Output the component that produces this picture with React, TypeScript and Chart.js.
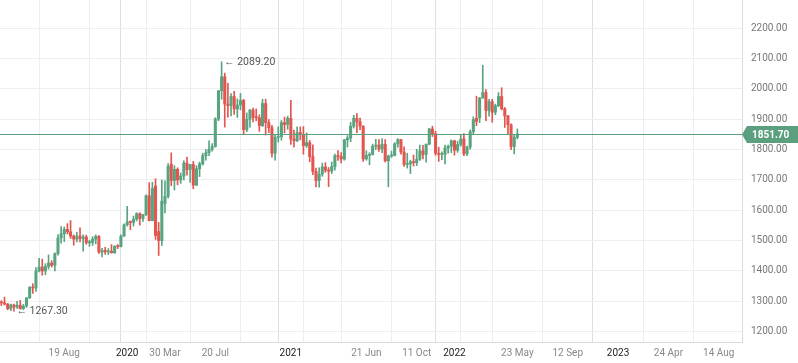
import React, { useEffect, useRef } from "react";
import { Chart, registerables } from "chart.js";
Chart.register(...registerables);

// Weekly candles, first week starting Monday 2019-04-01
const firstWeek = "2019-04-01";

const opens = [
  1298, 1295, 1291, 1276, 1288, 1281, 1287, 1276, 1285, 1311, 1346, 1344, 1400, 1413, 1400, 1415, 1426, 1419, 1457, 1509,
  1523, 1537, 1529, 1515, 1505, 1515, 1507, 1512, 1493, 1494, 1505, 1514, 1462, 1468, 1463, 1465, 1460, 1481, 1480, 1515,
  1552, 1562, 1560, 1571, 1589, 1573, 1586, 1648, 1566, 1680, 1530, 1500, 1622, 1646, 1752, 1698, 1735, 1700, 1713, 1756,
  1734, 1751, 1683, 1737, 1753, 1780, 1790, 1801, 1810, 1901, 1994, 2040, 1950, 1945, 1975, 1934, 1947, 1962, 1866, 1900,
  1930, 1906, 1905, 1879, 1952, 1889, 1872, 1788, 1840, 1843, 1889, 1883, 1903, 1835, 1829, 1856, 1850, 1813, 1823, 1777,
  1728, 1698, 1719, 1743, 1732, 1729, 1744, 1780, 1777, 1769, 1832, 1838, 1877, 1903, 1892, 1877, 1769, 1781, 1784, 1811,
  1815, 1802, 1817, 1763, 1779, 1781, 1819, 1833, 1792, 1751, 1753, 1760, 1757, 1768, 1796, 1784, 1818, 1868, 1852, 1788,
  1784, 1784, 1805, 1811, 1829, 1798, 1817, 1835, 1786, 1808, 1859, 1903, 1905, 1970, 1988, 1929, 1958, 1923, 1945, 1975,
  1934, 1911, 1882, 1810, 1841,
];
const highs = [
  1302, 1314, 1293, 1291, 1291, 1300, 1303, 1290, 1313, 1349, 1358, 1411, 1442, 1439, 1424, 1453, 1434, 1460, 1520, 1546,
  1545, 1556, 1566, 1519, 1527, 1542, 1519, 1518, 1501, 1513, 1519, 1517, 1475, 1478, 1474, 1487, 1484, 1487, 1519, 1555,
  1613, 1565, 1581, 1592, 1592, 1587, 1651, 1691, 1692, 1704, 1560, 1700, 1697, 1754, 1789, 1747, 1740, 1723, 1763, 1775,
  1751, 1761, 1747, 1759, 1788, 1800, 1829, 1820, 1905, 1994, 2089.2, 2052, 2018, 1985, 1992, 1967, 1985, 1966, 1921, 1933,
  1937, 1934, 1915, 1966, 1966, 1899, 1880, 1848, 1875, 1896, 1907, 1910, 1962, 1864, 1875, 1875, 1876, 1855, 1830, 1816,
  1739, 1740, 1755, 1757, 1741, 1759, 1785, 1797, 1790, 1834, 1846, 1890, 1913, 1919, 1904, 1879, 1796, 1790, 1818, 1834,
  1833, 1836, 1833, 1782, 1795, 1823, 1836, 1834, 1809, 1788, 1765, 1782, 1801, 1815, 1814, 1818, 1870, 1877, 1860, 1808,
  1793, 1815, 1815, 1832, 1831, 1828, 1848, 1853, 1812, 1865, 1908, 1976, 1972, 2078, 1998, 1966, 1966, 1950, 1988, 2004,
  1939, 1913, 1885, 1850, 1868,
];
const lows = [
  1286, 1288, 1272, 1269, 1267.3, 1277, 1274, 1273, 1280, 1310, 1326, 1333, 1397, 1386, 1388, 1406, 1413, 1400, 1452, 1492,
  1497, 1522, 1507, 1485, 1496, 1496, 1465, 1488, 1481, 1484, 1489, 1458, 1446, 1455, 1454, 1459, 1458, 1474, 1479, 1514,
  1548, 1536, 1548, 1565, 1551, 1563, 1582, 1565, 1565, 1504, 1451, 1484, 1591, 1640, 1681, 1667, 1684, 1689, 1700, 1716,
  1692, 1671, 1681, 1711, 1749, 1765, 1780, 1795, 1808, 1895, 1966, 1874, 1907, 1911, 1916, 1906, 1931, 1851, 1859, 1874,
  1891, 1895, 1860, 1876, 1848, 1856, 1775, 1765, 1825, 1831, 1855, 1867, 1817, 1808, 1826, 1832, 1785, 1807, 1760, 1717,
  1677, 1676, 1712, 1725, 1678, 1721, 1732, 1764, 1756, 1765, 1808, 1826, 1871, 1856, 1866, 1761, 1765, 1750, 1782, 1800,
  1794, 1790, 1759, 1677, 1774, 1779, 1808, 1785, 1745, 1739, 1721, 1746, 1747, 1764, 1769, 1759, 1816, 1843, 1781, 1761,
  1767, 1753, 1788, 1790, 1782, 1791, 1811, 1780, 1780, 1801, 1850, 1879, 1889, 1969, 1895, 1910, 1890, 1915, 1941, 1931,
  1873, 1850, 1800, 1786, 1835,
];
const closes = [
  1295, 1291, 1276, 1288, 1281, 1287, 1276, 1284, 1311, 1346, 1344, 1400, 1413, 1400, 1415, 1426, 1419, 1457, 1509, 1523,
  1537, 1529, 1515, 1505, 1515, 1507, 1512, 1493, 1494, 1505, 1514, 1462, 1468, 1463, 1465, 1460, 1481, 1480, 1515, 1552,
  1562, 1560, 1571, 1589, 1573, 1586, 1648, 1566, 1672, 1517, 1500, 1630, 1646, 1745, 1698, 1735, 1700, 1713, 1756, 1734,
  1751, 1683, 1737, 1753, 1780, 1790, 1801, 1810, 1901, 1994, 2040, 1950, 1945, 1975, 1934, 1947, 1962, 1866, 1900, 1930,
  1906, 1905, 1879, 1952, 1889, 1872, 1788, 1840, 1843, 1889, 1883, 1903, 1835, 1829, 1856, 1850, 1813, 1823, 1777, 1728,
  1698, 1719, 1743, 1732, 1729, 1744, 1780, 1777, 1769, 1832, 1838, 1877, 1903, 1892, 1877, 1769, 1781, 1784, 1811, 1815,
  1802, 1817, 1763, 1779, 1781, 1819, 1833, 1792, 1751, 1753, 1760, 1757, 1768, 1796, 1784, 1818, 1868, 1852, 1788, 1784,
  1784, 1805, 1811, 1829, 1798, 1817, 1835, 1786, 1808, 1859, 1899, 1893, 1970, 1988, 1929, 1958, 1923, 1945, 1975, 1934,
  1911, 1882, 1810, 1841, 1851.7,
];

const xTickDates = [
  "2019-04-29", "2019-08-19", "2019-12-09", "2020-01-06", "2020-03-30", "2020-07-20", "2020-11-09", "2021-01-04",
  "2021-03-01", "2021-06-21", "2021-10-11", "2022-01-03", "2022-01-31", "2022-05-23", "2022-09-12", "2023-01-02",
  "2023-04-24", "2023-08-14",
];
const xTickLabels = [
  "", "19 Aug", "", "2020", "30 Mar", "20 Jul", "", "2021", "", "21 Jun", "11 Oct", "2022", "", "23 May", "12 Sep",
  "2023", "24 Apr", "14 Aug",
];
const yearLabels = ["2020", "2021", "2022", "2023"];
const yTickValues = [1200, 1300, 1400, 1500, 1600, 1700, 1800, 1900, 2000, 2100, 2200];

const viewStart = "2019-03-29";
const viewEnd = "2023-10-05";
const yMin = 1166;
const yMax = 2293;

const GREEN = "#58a480";
const RED = "#e2564f";
const TAG = "#5b9f7f";

const DAY = 86400000;
const dayOf = (s: string) => Date.UTC(+s.slice(0, 4), +s.slice(5, 7) - 1, +s.slice(8, 10)) / DAY;
const firstDay = dayOf(firstWeek);
const xs = closes.map((_, i) => firstDay + i * 7);
const tickDays = xTickDates.map(dayOf);
const labelFor = (v: number) => {
  const i = tickDays.findIndex((d) => Math.abs(d - v) < 0.01);
  return i >= 0 ? xTickLabels[i] : "";
};
const isYearTick = (v: number) => yearLabels.includes(labelFor(v));
const candleColor = (i: number) => (closes[i] >= opens[i] ? GREEN : RED);

const overlay = {
  id: "overlay",
  afterDatasetsDraw(chart: any) {
    const { ctx, chartArea, scales } = chart;
    const x = scales.x;
    const y = scales.y;
    const last = closes[closes.length - 1];
    const py = Math.round(y.getPixelForValue(last)) + 0.5;
    ctx.save();
    ctx.strokeStyle = TAG;
    ctx.lineWidth = 1;
    ctx.beginPath();
    ctx.moveTo(chartArea.left, py);
    ctx.lineTo(chartArea.right, py);
    ctx.stroke();
    const L = chartArea.right;
    const R = chart.width;
    const h = 8.5;
    ctx.fillStyle = TAG;
    ctx.beginPath();
    ctx.moveTo(L, py);
    ctx.lineTo(L + 5, py - h);
    ctx.lineTo(R, py - h);
    ctx.lineTo(R, py + h);
    ctx.lineTo(L + 5, py + h);
    ctx.closePath();
    ctx.fill();
    ctx.fillStyle = "#ffffff";
    ctx.font = "bold 10px Roboto";
    ctx.textAlign = "left";
    ctx.textBaseline = "middle";
    ctx.fillText(last.toFixed(2), L + 10, py + 0.5);
    let hi = 0;
    let lo = 0;
    highs.forEach((v, i) => { if (v > highs[hi]) hi = i; });
    lows.forEach((v, i) => { if (v < lows[lo]) lo = i; });
    ctx.fillStyle = "#555";
    ctx.font = "10.5px Roboto";
    ctx.fillText("\u2190 " + highs[hi].toFixed(2), x.getPixelForValue(xs[hi]) + 2.5, y.getPixelForValue(highs[hi]) + 0.5);
    ctx.fillText("\u2190 " + lows[lo].toFixed(2), x.getPixelForValue(xs[lo]) + 2.5, y.getPixelForValue(lows[lo]) + 0.5);
    ctx.restore();
  },
};

export default function App() {
  const ref = useRef<HTMLCanvasElement>(null);
  useEffect(() => {
    document.body.style.margin = "0";
    const canvas = ref.current!;
    const wicks = xs.map((x, i) => ({ x, y: [lows[i], highs[i]] }));
    const bodies = xs.map((x, i) => ({ x, y: [opens[i], closes[i]] }));
    const chart = new Chart(canvas, {
      type: "bar",
      data: {
        datasets: [
          {
            data: bodies as any,
            backgroundColor: (c: any) => candleColor(c.dataIndex),
            barThickness: 2.4,
            minBarLength: 1,
            grouped: false,
            order: 0,
            borderWidth: 0,
          } as any,
          {
            data: wicks as any,
            backgroundColor: (c: any) => candleColor(c.dataIndex),
            barThickness: 1,
            grouped: false,
            order: 1,
            borderWidth: 0,
          } as any,
        ],
      },
      options: {
        responsive: false,
        animation: false,
        maintainAspectRatio: false,
        layout: { padding: 0 },
        plugins: { legend: { display: false }, tooltip: { enabled: false } },
        scales: {
          x: {
            type: "linear",
            offset: false,
            min: dayOf(viewStart),
            max: dayOf(viewEnd) - 0.3,
            afterBuildTicks: (s: any) => { s.ticks = tickDays.map((v) => ({ value: v })); },
            afterFit: (s: any) => { s.height = 21; s.paddingLeft = 0; s.paddingRight = 0; },
            grid: {
              drawTicks: false,
              color: (c: any) => (c.tick && isYearTick(c.tick.value) ? "#dcdfe3" : "#eceef1"),
            },
            border: { color: "#d7dade" },
            ticks: {
              autoSkip: false,
              maxRotation: 0,
              padding: 5,
              font: { family: "Roboto", size: 10 },
              color: (c: any) => (c.tick && isYearTick(c.tick.value) ? "#222" : "#888"),
              callback: (v: any) => labelFor(Number(v)),
            },
          },
          y: {
            type: "linear",
            position: "right",
            min: yMin,
            max: yMax,
            afterBuildTicks: (s: any) => { s.ticks = yTickValues.map((v) => ({ value: v })); },
            afterFit: (s: any) => { s.width = 56; s.paddingTop = 0; s.paddingBottom = 0; },
            grid: { drawTicks: false, color: "#eceef1" },
            border: { color: "#d7dade" },
            ticks: {
              padding: 9,
              font: { family: "Roboto", size: 10 },
              color: "#777",
              callback: (v: any) => Number(v).toFixed(2),
            },
          },
        },
      },
      plugins: [overlay],
    } as any);
    return () => chart.destroy();
  }, []);
  return (
    <div style={{ width: 798, height: 363 }}>
      <canvas ref={ref} width={798} height={363} style={{ display: "block" }} />
    </div>
  );
}
